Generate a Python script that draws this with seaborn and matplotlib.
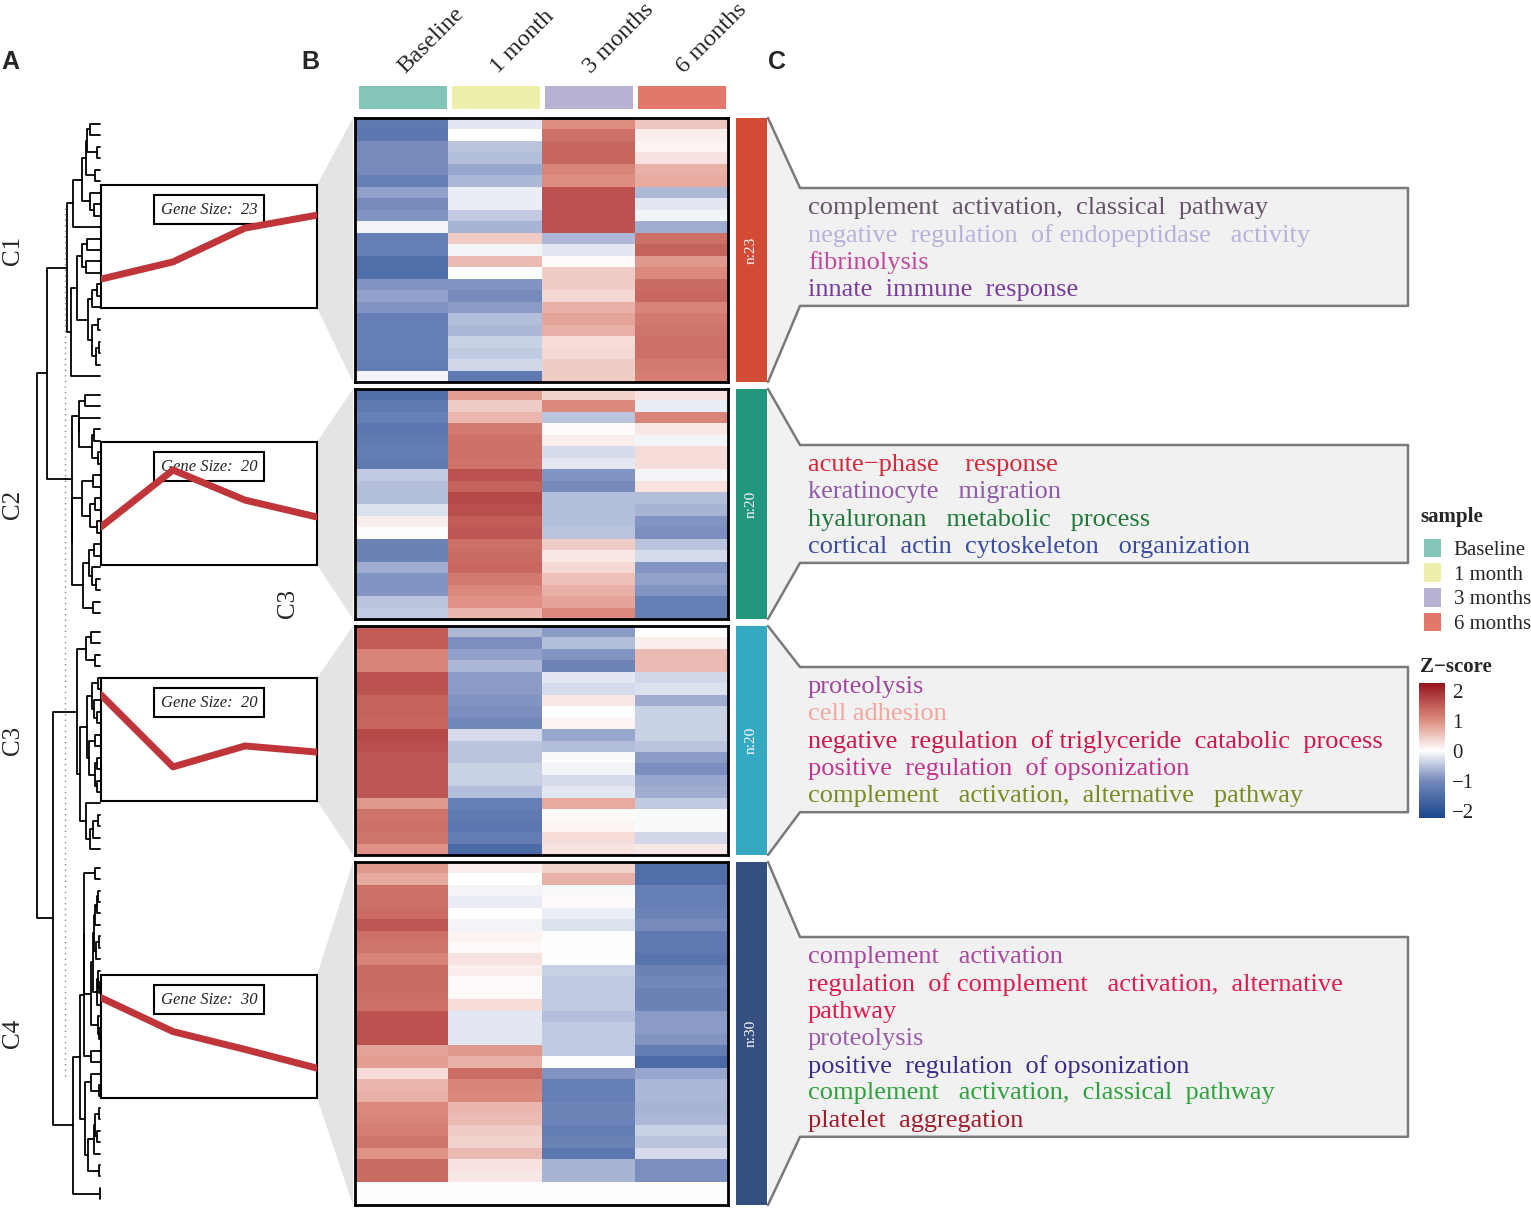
import numpy as np
import pandas as pd
import seaborn as sns
import matplotlib
matplotlib.use('Agg')
import matplotlib.pyplot as plt
from matplotlib.colors import LinearSegmentedColormap, ListedColormap
from matplotlib.patches import Polygon, Rectangle
from matplotlib.transforms import ScaledTranslation

# ---- data ---------------------------------------------------------------
timepoints = ['Baseline', '1 month', '3 months', '6 months']
sample_colors = ['#84C5B9', '#EEEFAB', '#B7B1D3', '#E3786A']

cluster_names = ['C1', 'C2', 'C3', 'C4']
cluster_sizes = [23, 20, 20, 30]
cluster_colors = ['#D34A35', '#23967E', '#35A8C2', '#354F80']

c1_base = [-1.3, -1.35, -1.0, -1.0, -1.0, -1.2, -0.8, -1.0, -0.9, -0.1, -1.2, -1.2, -1.5, -1.5, -0.9, -0.8, -0.9, -1.2, -1.2, -1.2, -1.2, -1.25, -0.1]
c1_m1 = [-0.2, 0.0, -0.5, -0.55, -0.75, -0.6, -0.15, -0.15, -0.45, -0.65, 0.45, -0.1, 0.6, 0.0, -0.9, -1.0, -0.85, -0.55, -0.6, -0.4, -0.45, -0.35, -1.3]
c1_m3 = [1.0, 1.3, 1.4, 1.4, 1.1, 1.0, 1.6, 1.6, 1.6, 1.6, -0.6, -0.2, 0.05, 0.45, 0.45, 0.35, 0.7, 0.8, 0.7, 0.3, 0.35, 0.45, 0.45]
c1_m6 = [0.5, 0.15, 0.1, 0.25, 0.7, 0.75, -0.6, -0.2, -0.1, -0.7, 1.3, 1.45, 0.9, 1.05, 1.35, 1.4, 1.1, 1.2, 1.25, 1.3, 1.3, 1.2, 1.15]

c2_base = [-1.5, -1.3, -1.2, -1.35, -1.3, -1.25, -1.3, -0.45, -0.55, -0.55, -0.25, 0.15, 0.0, -1.15, -1.15, -0.7, -0.9, -0.9, -0.5, -0.45]
c2_m1 = [0.85, 0.45, 0.65, 1.2, 1.3, 1.3, 1.25, 1.6, 1.45, 1.7, 1.65, 1.5, 1.55, 1.3, 1.35, 1.4, 1.2, 1.05, 0.95, 0.65]
c2_m3 = [0.4, 1.05, -0.5, 0.05, 0.15, -0.3, -0.2, -0.9, -1.0, -0.55, -0.55, -0.55, -0.5, 0.45, 0.2, 0.35, 0.55, 0.7, 0.8, 1.05]
c2_m6 = [0.25, -0.15, 1.1, 0.2, -0.1, 0.3, 0.3, -0.1, 0.25, -0.55, -0.65, -0.9, -0.95, -0.5, -0.3, -0.9, -0.8, -0.9, -1.2, -1.2]

c3_base = [1.5, 1.5, 1.1, 1.1, 1.6, 1.6, 1.45, 1.45, 1.4, 1.7, 1.65, 1.55, 1.55, 1.55, 1.55, 0.9, 1.25, 1.3, 1.25, 0.95]
c3_m1 = [-0.6, -0.95, -0.8, -0.6, -0.85, -0.85, -0.9, -0.95, -1.05, -0.3, -0.5, -0.5, -0.4, -0.4, -0.55, -1.2, -1.3, -1.35, -1.25, -1.55]
c3_m3 = [-0.85, -0.55, -0.9, -1.1, -0.2, -0.3, 0.2, 0.0, 0.1, -0.75, -0.55, -0.05, -0.1, -0.3, -0.2, 0.75, 0.05, 0.1, 0.3, 0.25]
c3_m6 = [0.0, 0.15, 0.6, 0.6, -0.35, -0.25, -0.7, -0.4, -0.4, -0.4, -0.5, -0.85, -0.95, -0.75, -0.7, -0.45, -0.05, -0.05, -0.35, 0.2]

c4_base = [0.9, 0.75, 1.3, 1.3, 1.35, 1.55, 1.3, 1.25, 1.1, 1.35, 1.35, 1.35, 1.3, 1.6, 1.6, 1.6, 0.8, 0.85, 0.3, 0.65, 0.7, 1.05, 1.1, 1.15, 1.25, 0.95, 1.35, 1.35, 0.0, 0.0]
c4_m1 = [0.15, 0.0, -0.1, -0.15, 0.0, -0.1, 0.1, 0.05, 0.25, 0.15, 0.05, 0.05, 0.3, -0.2, -0.2, -0.2, 0.9, 0.7, 1.35, 1.1, 1.05, 0.65, 0.6, 0.45, 0.4, 0.6, 0.25, 0.2, 0.0, 0.0]
c4_m3 = [0.4, 0.7, -0.05, 0.05, -0.15, -0.25, 0.0, 0.0, 0.0, -0.4, -0.45, -0.45, -0.45, -0.55, -0.45, -0.45, -0.45, 0.0, -0.9, -1.2, -1.2, -1.1, -1.1, -1.25, -1.15, -1.35, -0.65, -0.65, 0.0, 0.0]
c4_m6 = [-1.5, -1.5, -1.2, -1.2, -1.15, -1.0, -1.3, -1.3, -1.4, -1.15, -1.05, -1.15, -1.15, -0.85, -0.85, -0.9, -1.25, -1.55, -0.75, -0.6, -0.6, -0.65, -0.6, -0.4, -0.5, -0.3, -0.95, -0.95, 0.0, 0.0]

# mean trend lines in the small boxes (z-score units)
trend_c1 = [-1.06, -0.50, 0.60, 1.02]
trend_c2 = [-0.76, 1.09, 0.11, -0.44]
trend_c3 = [1.45, -0.89, -0.21, -0.41]
trend_c4 = [1.26, 0.16, -0.42, -1.03]

# dendrogram merge heights (leaves = 0)
dendro_cluster_h = [33, 28, 23, 27]
dendro_pair_h = [53, 47]
dendro_root_h = 63
dendro_cut_h = 35

go_c1 = ['complement  activation,  classical  pathway',
         'negative  regulation  of endopeptidase   activity',
         'fibrinolysis',
         'innate  immune  response']
go_c1_colors = ['#66536A', '#B9B1D9', '#C4479B', '#7B3C9B']
go_c2 = ['acute\u2212phase    response',
         'keratinocyte   migration',
         'hyaluronan   metabolic   process',
         'cortical  actin  cytoskeleton   organization']
go_c2_colors = ['#D62839', '#8F5AA8', '#1F7A3A', '#3A4CA0']
go_c3 = ['proteolysis',
         'cell adhesion',
         'negative  regulation  of triglyceride  catabolic  process',
         'positive  regulation  of opsonization',
         'complement   activation,  alternative   pathway']
go_c3_colors = ['#A2479E', '#F2A69E', '#D1154B', '#C2348F', '#7A8B22']
go_c4 = ['complement   activation',
         'regulation  of complement   activation,  alternative',
         'pathway',
         'proteolysis',
         'positive  regulation  of opsonization',
         'complement   activation,  classical  pathway',
         'platelet  aggregation']
go_c4_colors = ['#A9479F', '#E11A4B', '#E11A4B', '#9B5BA8', '#3E2A8A', '#2EA23C', '#A31A2B']

cluster_data = [
    [c1_base, c1_m1, c1_m3, c1_m6],
    [c2_base, c2_m1, c2_m3, c2_m6],
    [c3_base, c3_m1, c3_m3, c3_m6],
    [c4_base, c4_m1, c4_m3, c4_m6],
]
trends = [trend_c1, trend_c2, trend_c3, trend_c4]
go_terms = [go_c1, go_c2, go_c3, go_c4]
go_colors = [go_c1_colors, go_c2_colors, go_c3_colors, go_c4_colors]

# ---- layout (pixels, top-left origin) ----------------------------------
W, H = 1531, 1208
slice_top = [118, 389, 626, 862]
slice_bot = [382, 619, 855, 1205]
inset_top = [185, 442, 678, 975]
go_top = [188, 445, 667, 937]

sns.set_style('white')
plt.rcParams['font.family'] = ['Liberation Serif', 'DejaVu Serif']

fig = plt.figure(figsize=(W / 100, H / 100), dpi=100)


def px_axes(x0, y0, x1, y1, **kw):
    return fig.add_axes([x0 / W, 1 - y1 / H, (x1 - x0) / W, (y1 - y0) / H], **kw)


ov = px_axes(0, 0, W, H)
ov.set_xlim(0, W)
ov.set_ylim(H, 0)
ov.axis('off')

zcmap = LinearSegmentedColormap.from_list(
    'z', [(0, '#19468C'), (1.25 / 4.5, '#768ABC'), (0.5, '#FFFFFF'),
          (3.25 / 4.5, '#DE8E80'), (1, '#96141C')])

# panel letters
for x, s in [(10, 'A'), (310, 'B'), (777, 'C')]:
    ov.text(x, 62, s, family='Liberation Sans', weight='bold', fontsize=18, ha='center', va='center')

# sample annotation bar + column labels
ann = px_axes(356, 83, 728, 111)
sns.heatmap(pd.DataFrame([np.arange(4)], columns=timepoints), cmap=ListedColormap(sample_colors),
            cbar=False, linewidths=2.5, linecolor='white', yticklabels=False, ax=ann)
ann.xaxis.tick_top()
ann.set_xticklabels(timepoints, rotation=45, ha='left', rotation_mode='anchor', fontsize=17.5)
ann.tick_params(axis='x', length=0, pad=4)
for lbl in ann.get_xticklabels():
    lbl.set_transform(lbl.get_transform() + ScaledTranslation(0.06, 0, fig.dpi_scale_trans))

# colour bar axes for z-score
cax = px_axes(1419, 683, 1445, 818)


def ordered_tree(rows, ys, top_h):
    # merge neighbouring rows only so the tree keeps the heatmap order
    groups = [[i] for i in range(len(rows))]
    pos = list(ys)
    hgt = [0.0] * len(rows)
    merges = []
    while len(groups) > 1:
        d = [np.mean([np.linalg.norm(rows[a] - rows[b]) for a in groups[j] for b in groups[j + 1]])
             for j in range(len(groups) - 1)]
        j = int(np.argmin(d))
        h = max(d[j], hgt[j], hgt[j + 1])
        merges.append((pos[j], hgt[j], pos[j + 1], hgt[j + 1], h))
        groups[j:j + 2] = [groups[j] + groups[j + 1]]
        pos[j:j + 2] = [(pos[j] + pos[j + 1]) / 2]
        hgt[j:j + 2] = [h]
    sc = top_h / hgt[0]
    return [(a, b * sc, c, e * sc, h * sc) for a, b, c, e, h in merges], pos[0]


dax = px_axes(0, 118, 100, 1205)
dax.set_xlim(100, 0)
dax.set_ylim(1205, 118)
dax.axis('off')
roots = []
hm_axes = []

for k in range(4):
    top, bot = slice_top[k], slice_bot[k]
    n = cluster_sizes[k]
    df = pd.DataFrame({tp: vals for tp, vals in zip(timepoints, cluster_data[k])})

    ax = px_axes(355, top, 728, bot)
    sns.heatmap(df, cmap=zcmap, vmin=-2.25, vmax=2.25, cbar=(k == 0),
                cbar_ax=cax if k == 0 else None, xticklabels=False, yticklabels=False, ax=ax)
    for sp in ax.spines.values():
        sp.set_visible(True)
        sp.set_linewidth(2)
        sp.set_color('black')
    hm_axes.append(ax)

    # dendrogram for this cluster
    ys = top + (np.arange(n) + 0.5) * (bot - top) / n
    merges, rpos = ordered_tree(df.values, ys, dendro_cluster_h[k])
    for y1, h1, y2, h2, h in merges:
        dax.plot([h1, h, h, h2], [y1, y1, y2, y2], color='black', lw=1.3, clip_on=False)
    roots.append(rpos)

    # left grey wedge
    it = inset_top[k]
    ov.add_patch(Polygon([(317, it), (353, top), (353, bot), (317, it + 123)], closed=True,
                         fc='#E4E4E4', ec='none'))

    # trend inset
    iax = px_axes(101, it, 317, it + 123)
    sns.lineplot(x=np.arange(4), y=trends[k], ax=iax, color='#C0353A', lw=5, zorder=3)
    iax.set_xlim(0, 3)
    iax.set_ylim(-2, 2)
    iax.set_xticks([])
    iax.set_yticks([])
    iax.set_xlabel('')
    iax.set_ylabel('')
    for sp in iax.spines.values():
        sp.set_visible(True)
        sp.set_linewidth(1.5)
        sp.set_color('black')
    iax.text(0.5, 0.8, f'Gene Size:  {n}', transform=iax.transAxes, ha='center', va='center',
             style='italic', fontsize=12, zorder=1,
             bbox=dict(boxstyle='square,pad=0.4', fc='white', ec='black', lw=1.5))

    # cluster label
    ov.text(13, (top + bot) / 2, cluster_names[k], rotation=90, fontsize=18, ha='center', va='center')

    # cluster colour bar
    ov.add_patch(Rectangle((736, top), 31, bot - top, fc=cluster_colors[k], ec='none'))
    ov.text(751.5, (top + bot) / 2, f'n:{n}', color='white', rotation=90, fontsize=11,
            ha='center', va='center')

    # GO term callout
    terms = go_terms[k]
    bt = go_top[k]
    bb = bt + 36 + (len(terms) - 1) * 27.3
    ov.add_patch(Polygon([(768, top), (800, bt), (1408, bt), (1408, bb), (800, bb), (768, bot)],
                         closed=True, fc='#F2F1F2', ec='none'))
    ov.plot([768, 800, 1408, 1408, 800, 768], [top, bt, bt, bb, bb, bot], color='#7A7A7A', lw=1.8)
    for i, (t, c) in enumerate(zip(terms, go_colors[k])):
        ov.text(808, bt + 20 + i * 27.3, t, color=c, fontsize=19, ha='left', va='center')

# upper levels of the dendrogram
hc = dendro_cluster_h
p12 = (roots[0] + roots[1]) / 2
p34 = (roots[2] + roots[3]) / 2
dax.plot([hc[0], dendro_pair_h[0], dendro_pair_h[0], hc[1]], [roots[0], roots[0], roots[1], roots[1]],
         color='black', lw=1.3)
dax.plot([hc[2], dendro_pair_h[1], dendro_pair_h[1], hc[3]], [roots[2], roots[2], roots[3], roots[3]],
         color='black', lw=1.3)
dax.plot([dendro_pair_h[0], dendro_root_h, dendro_root_h, dendro_pair_h[1]], [p12, p12, p34, p34],
         color='black', lw=1.3)
dax.plot([dendro_cut_h, dendro_cut_h], [208, 1080], color='#888888', lw=1, ls=(0, (1, 3)))

ov.text(288, 603, 'C3', rotation=90, fontsize=18, ha='center', va='center')

# z-score colour bar styling
cb = hm_axes[0].collections[0].colorbar
cb.set_ticks([-2, -1, 0, 1, 2])
cb.outline.set_visible(False)
cax.tick_params(axis='y', direction='in', length=6, width=1.5, color='white', left=True, right=True,
                labelsize=15, pad=5)

# legend
ov.text(1420, 517, 'sample', fontweight='bold', fontsize=15, ha='left', va='center')
ov.text(1420, 667, 'Z\u2212score', fontweight='bold', fontsize=15, ha='left', va='center')
leg = px_axes(1421, 536, 1444, 634)
sns.heatmap(pd.DataFrame({'s': np.arange(4)}, index=timepoints), cmap=ListedColormap(sample_colors),
            cbar=False, linewidths=3, linecolor='white', xticklabels=False, ax=leg)
leg.yaxis.tick_right()
leg.set_yticklabels(timepoints, rotation=0, fontsize=15, ha='left')
leg.tick_params(axis='y', length=0, pad=7)
leg.set_ylabel('')

fig.savefig('out.png', dpi=100)
